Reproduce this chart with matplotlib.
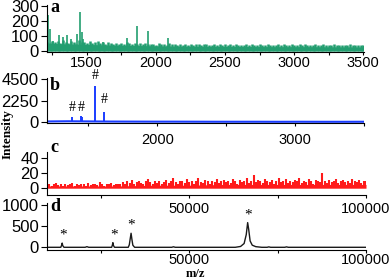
import numpy as np
import matplotlib.pyplot as plt
from matplotlib.ticker import MultipleLocator, FixedLocator

# ---- data ----
# panel a: MALDI spectrum 1200-3500 (green)
a_noise = [62, 55, 70, 58, 66, 52, 75, 60, 57, 68, 63, 50, 72, 58, 61, 55, 66, 53, 59, 64,
           52, 58, 49, 61, 55, 47, 57, 50, 54, 46, 59, 51, 48, 55, 45, 52, 49, 56, 44, 50,
           47, 42, 51, 45, 48, 40, 53, 44, 46, 41, 49, 43, 47, 39, 50, 42, 45, 48, 40, 44,
           46, 39, 43, 48, 41, 45, 38, 47, 42, 44, 40, 49, 41, 43, 37, 46, 40, 44, 42, 38,
           45, 41, 39, 47, 40, 43, 38, 46, 41, 44, 39, 42, 47, 40, 38, 44, 41, 45, 39, 43,
           40, 44, 38, 42, 46, 39, 41, 37, 45, 40, 43, 38, 42, 39, 44, 37, 41, 43, 38, 40]
a_base = [52, 46, 41, 37, 34, 32, 31, 30, 29, 29, 28, 27]
a_spike_mz = [1217, 1235, 1257, 1300, 1329, 1358, 1387, 1430, 1452, 1466, 1473, 1618, 1791, 1863, 1942, 2087]
a_spike_h = [243, 147, 70, 107, 95, 110, 80, 115, 262, 125, 80, 62, 86, 168, 136, 86]

# panel b: blue spectrum with # peaks
b_base = [90, 110, 95, 80, 75, 70, 70, 65, 60, 60, 60, 55, 60, 55, 55, 60]
b_peak_mz = [1384, 1420, 1447, 1455, 1500, 1549, 1616, 1700, 2850, 2950, 3250]
b_peak_h = [520, 150, 650, 600, 120, 3780, 1100, 90, 80, 80, 70]
b_hash_mz = [1384, 1450, 1549, 1616]
b_hash_y = [1490, 1490, 4825, 2323]

# panel c: red spectrum 10000-100000
c_noise = [4, 6, 3, 5, 7, 4, 5, 3, 6, 4, 5, 7, 3, 5, 4, 6, 5, 3, 7, 4, 6, 5, 4, 8, 5, 3, 6, 5, 7, 4, 6, 5,
           6, 8, 5, 9, 7, 11, 6, 8, 10, 7, 5, 9, 12, 8, 6, 10, 7, 9, 5, 8, 11, 7, 9, 13, 8, 6, 10, 9, 7, 12,
           8, 10, 6, 9, 14, 8, 7, 11, 9, 6, 10, 8, 12, 7, 9, 11,
           8, 10, 7, 12, 9, 6, 11, 8, 10, 13, 7, 9, 18, 8, 11, 10, 7, 12, 9, 8, 11, 6, 10, 14, 8, 9, 12, 7,
           10, 8, 11, 9, 13, 7, 10, 8, 12, 9, 6, 11, 10, 8, 20, 9, 7, 11, 8, 10, 12, 7, 9, 11, 8, 10, 7, 12,
           9, 8, 11, 7, 10, 9]
c_base = [3, 3, 3, 4, 4, 5, 5, 5, 5, 5]

# panel d: black spectrum with * peaks
d_mz = [9700, 13600, 13850, 14000, 14150, 14500, 20500, 21000, 21500, 28000, 28200, 28350, 28500,
        28800, 32700, 33000, 33250, 33500, 33750, 34000, 34500, 45000, 45500, 46000, 63000, 64500,
        65500, 66100, 66500, 66800, 67200, 67800, 68800, 70500, 72000, 72500, 73000, 77000, 77500,
        78000, 100000]
d_int = [0, 0, 50, 100, 40, 0, 0, 15, 0, 0, 50, 110, 45, 0, 0, 60, 200, 333, 180, 50, 0,
         0, 12, 0, 0, 20, 90, 300, 585, 420, 150, 50, 15, 0, 0, 10, 0, 0, 10, 0, 0]
d_star_mz = [14340, 28600, 33600, 66700]
d_star_y = [290, 290, 526, 762]

# ---- figure ----
W, H = 392.0, 280.0
fig = plt.figure(figsize=(W / 100, H / 100), dpi=100)


def add_ax(l, t, r, b):
    ax = fig.add_axes([l / W, 1 - b / H, (r - l) / W, (b - t) / H])
    ax.set_facecolor('none')
    return ax


def style(ax, xpad):
    for s in ['top', 'right']:
        ax.spines[s].set_visible(False)
    for s in ['left', 'bottom']:
        ax.spines[s].set_linewidth(0.8)
    ax.tick_params(axis='y', which='major', direction='out', length=4.5, width=0.8,
                   labelsize=12, pad=1.5)
    ax.tick_params(axis='x', which='major', direction='out', length=2.5, width=0.8,
                   labelsize=10.5, pad=xpad)
    ax.tick_params(axis='x', which='minor', direction='out', length=2.5, width=0.8)


lbl = dict(family='Liberation Serif', weight='bold', fontsize=13)

ax_a = add_ax(47, 5, 364, 52)
ax_b = add_ax(47, 78, 364, 123)
ax_c = add_ax(47, 152, 366, 195)
ax_d = add_ax(47, 203, 366, 250)

# a
ga = '#239e70'
xa = np.linspace(1213, 3500, len(a_noise))
xab = np.linspace(1213, 3500, len(a_base))
ax_a.fill_between(xab, 0, a_base, color=ga, lw=0)
ax_a.vlines(xa, 0, a_noise, color=ga, lw=1.8)
ax_a.vlines(a_spike_mz, 0, a_spike_h, color=ga, lw=1.2)
ax_a.set_xlim(1213, 3505)
ax_a.set_ylim(-7, 310)
ax_a.xaxis.set_major_locator(MultipleLocator(500))
ax_a.xaxis.set_minor_locator(MultipleLocator(250))
ax_a.yaxis.set_major_locator(FixedLocator([0, 100, 200, 300]))
style(ax_a, 0.3)
ax_a.text(0.01, 0.947, 'a', transform=ax_a.transAxes, ha='left', va='center', **lbl)

# b
bb = '#1a3cff'
xb = np.linspace(1200, 3500, len(b_base))
ax_b.plot(xb, b_base, color=bb, lw=1.5)
ax_b.vlines(b_peak_mz, 0, b_peak_h, color=bb, lw=1.4)
for m, y in zip(b_hash_mz, b_hash_y):
    ax_b.text(m, y, '#', ha='center', va='center', family='Liberation Serif',
              fontsize=10, clip_on=False)
ax_b.set_xlim(1200, 3500)
ax_b.set_ylim(-70, 4600)
ax_b.xaxis.set_major_locator(MultipleLocator(1000))
ax_b.xaxis.set_minor_locator(MultipleLocator(500))
ax_b.yaxis.set_major_locator(FixedLocator([0, 2250, 4500]))
style(ax_b, 5)
ax_b.text(0.01, 0.833, 'b', transform=ax_b.transAxes, ha='left', va='center', **lbl)

# c
rc = '#ff1a1a'
xc = np.linspace(9700, 100000, len(c_noise))
xcb = np.linspace(9700, 100000, len(c_base))
ax_c.fill_between(xcb, 0, c_base, color=rc, lw=0)
ax_c.vlines(xc, 0, c_noise, color=rc, lw=1.5)
ax_c.set_xlim(9700, 100000)
ax_c.set_ylim(-9, 48)
ax_c.xaxis.set_major_locator(MultipleLocator(50000))
ax_c.xaxis.set_minor_locator(MultipleLocator(25000))
ax_c.yaxis.set_major_locator(FixedLocator([0, 20, 40]))
style(ax_c, 2.5)
ax_c.text(0.01, 1.1, 'c', transform=ax_c.transAxes, ha='left', va='center', **lbl)

# d
ax_d.plot(d_mz, d_int, color='#1a1a1a', lw=1.0)
for m, y in zip(d_star_mz, d_star_y):
    ax_d.text(m, y, '*', ha='center', va='center', family='Liberation Serif',
              fontsize=11, clip_on=False)
ax_d.set_xlim(9700, 100000)
ax_d.set_ylim(-64, 1050)
ax_d.xaxis.set_major_locator(MultipleLocator(50000))
ax_d.xaxis.set_minor_locator(MultipleLocator(25000))
ax_d.yaxis.set_major_locator(FixedLocator([0, 500, 1000]))
style(ax_d, 0)
ax_d.text(0.01, 0.915, 'd', transform=ax_d.transAxes, ha='left', va='center', **lbl)

fig.text(8 / W, 1 - 134 / H, 'Intensity', rotation=90, ha='center', va='center',
         family='Liberation Serif', weight='bold', fontsize=9.5)
fig.text(195 / W, 1 - 277 / H, 'm/z', ha='center', va='baseline',
         family='Liberation Serif', weight='bold', fontsize=9)

for ax in (ax_a, ax_b, ax_c, ax_d):
    for t in ax.get_xticklabels() + ax.get_yticklabels():
        t.set_family('Liberation Sans')

fig.savefig('out.png', dpi=100)
